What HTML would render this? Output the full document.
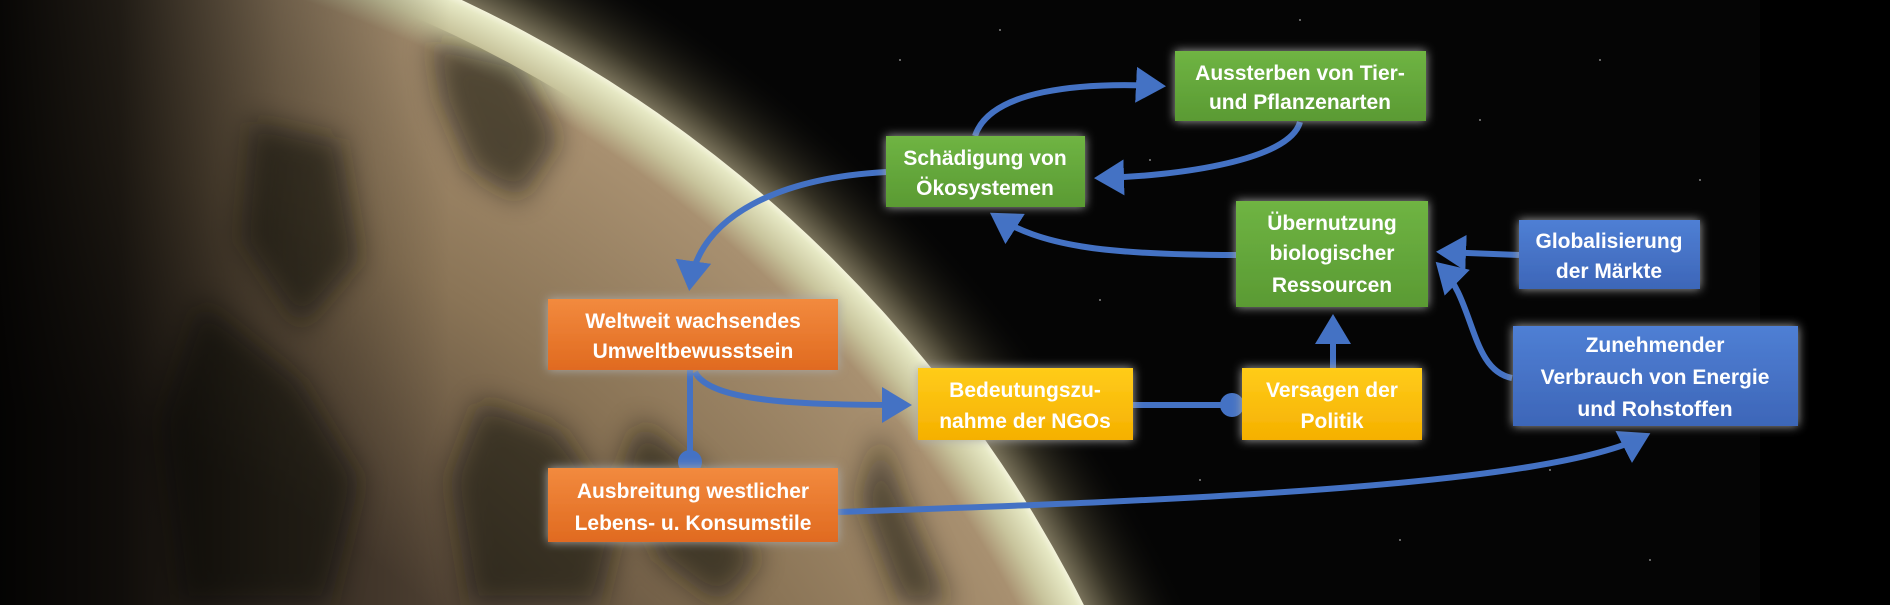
<!DOCTYPE html>
<html><head><meta charset="utf-8"><style>
html,body{margin:0;padding:0;background:#000;width:1890px;height:605px;overflow:hidden;}
svg{display:block;}
text{font-family:"Liberation Sans",sans-serif;font-weight:bold;fill:#fff;font-size:21px;text-anchor:middle;}
</style></head><body>
<svg width="1890" height="605" viewBox="0 0 1890 605" xmlns="http://www.w3.org/2000/svg">
<defs>
<radialGradient id="earth" cx="-100" cy="1200" r="1325" gradientUnits="userSpaceOnUse">
<stop offset="0.6" stop-color="#4e4032"/>
<stop offset="0.8" stop-color="#8a7456"/>
<stop offset="0.955" stop-color="#a89070"/>
<stop offset="0.975" stop-color="#c8c49c"/>
<stop offset="0.995" stop-color="#e6e8c4"/>
<stop offset="1" stop-color="#f4f4dc"/>
</radialGradient>
<radialGradient id="glow" cx="-100" cy="1200" r="1420" gradientUnits="userSpaceOnUse">
<stop offset="0.92" stop-color="#fff2c8" stop-opacity="0.65"/>
<stop offset="0.955" stop-color="#d8c890" stop-opacity="0.22"/>
<stop offset="1" stop-color="#000" stop-opacity="0"/>
</radialGradient>
<linearGradient id="shade" x1="0" y1="0" x2="1" y2="0">
<stop offset="0" stop-color="#000" stop-opacity="0.95"/>
<stop offset="0.12" stop-color="#000" stop-opacity="0.8"/>
<stop offset="0.28" stop-color="#000" stop-opacity="0.35"/>
<stop offset="0.45" stop-color="#000" stop-opacity="0"/>
</linearGradient>
<linearGradient id="gG" x1="0" y1="0" x2="0" y2="1"><stop offset="0" stop-color="#6fb443"/><stop offset="1" stop-color="#5a9a33"/></linearGradient>
<linearGradient id="gO" x1="0" y1="0" x2="0" y2="1"><stop offset="0" stop-color="#f28a3e"/><stop offset="1" stop-color="#e06a20"/></linearGradient>
<linearGradient id="gY" x1="0" y1="0" x2="0" y2="1"><stop offset="0" stop-color="#ffcc1a"/><stop offset="1" stop-color="#f5b000"/></linearGradient>
<linearGradient id="gB" x1="0" y1="0" x2="0" y2="1"><stop offset="0" stop-color="#4f7fd4"/><stop offset="1" stop-color="#3d66b8"/></linearGradient>
<filter id="bglow" x="-20%" y="-30%" width="140%" height="160%"><feFlood flood-color="#aaa"/><feComposite operator="in" in2="SourceAlpha"/><feGaussianBlur stdDeviation="5"/><feMerge><feMergeNode/><feMergeNode in="SourceGraphic"/></feMerge></filter>
<filter id="soft" x="-20%" y="-20%" width="140%" height="140%"><feGaussianBlur stdDeviation="14"/></filter>
<clipPath id="ec"><circle cx="-100" cy="1200" r="1290"/></clipPath>
<marker id="ar" markerWidth="6" markerHeight="6" refX="4" refY="3" orient="auto" markerUnits="strokeWidth"><path d="M0,0 L5,3 L0,6 Z" fill="#4472c4"/></marker>
<marker id="dot" markerWidth="4" markerHeight="4" refX="2" refY="2" orient="auto" markerUnits="strokeWidth"><circle cx="2" cy="2" r="2" fill="#4472c4"/></marker>
</defs>
<rect width="1890" height="605" fill="#050505"/>
<g fill="#fff" opacity="0.5">
<circle cx="1000" cy="30" r="1"/><circle cx="1150" cy="160" r="1"/><circle cx="1480" cy="120" r="1"/><circle cx="1600" cy="60" r="1"/><circle cx="1200" cy="480" r="1"/><circle cx="1400" cy="540" r="1"/><circle cx="1100" cy="300" r="1"/><circle cx="1700" cy="180" r="1"/><circle cx="1550" cy="470" r="1"/><circle cx="900" cy="60" r="1"/><circle cx="1300" cy="20" r="1"/><circle cx="1650" cy="560" r="1"/>
</g>
<circle cx="-100" cy="1200" r="1420" fill="url(#glow)"/>
<circle cx="-100" cy="1200" r="1325" fill="url(#earth)"/>
<g clip-path="url(#ec)">
<g fill="#151210" opacity="0.6" filter="url(#soft)">
<path d="M430 40 L520 60 L560 140 L520 200 L470 170 L440 100 Z"/>
<path d="M480 400 L560 430 L620 520 L600 605 L470 605 L450 480 Z"/>
<path d="M640 420 L700 470 L760 560 L720 605 L660 560 L620 470 Z"/>
<path d="M880 430 L900 490 L950 605 L900 605 L860 500 Z"/>
<path d="M250 120 L340 140 L360 260 L300 330 L240 240 Z"/>
<path d="M200 300 L300 380 L360 480 L330 605 L180 605 L160 420 Z"/>
</g>
</g>
<rect width="1000" height="605" fill="url(#shade)"/>
<rect x="1760" width="130" height="605" fill="#000"/>

<g fill="none" stroke="#4472c4" stroke-width="6">
<path d="M975 136 C990 90,1080 82,1160 86" marker-end="url(#ar)"/>
<path d="M1300 122 C1290 160,1180 176,1100 178" marker-end="url(#ar)"/>
<path d="M1236 255 C1100 255,1040 245,995 216" marker-end="url(#ar)"/>
<path d="M886 172 C780 178,700 215,690 285" marker-end="url(#ar)"/>
<path d="M690 370 L690 462" marker-end="url(#dot)"/>
<path d="M695 372 C710 402,800 405,906 405" marker-end="url(#ar)"/>
<path d="M1133 405 L1232 405" marker-end="url(#dot)"/>
<path d="M1333 368 L1333 320" marker-end="url(#ar)"/>
<path d="M1519 255 L1442 252" marker-end="url(#ar)"/>
<path d="M1512 378 C1470 370,1475 300,1440 266" marker-end="url(#ar)"/>
<path d="M838 512 C1200 500,1550 485,1645 436" marker-end="url(#ar)"/>
</g>

<g filter="url(#bglow)">
<rect x="1175" y="51" width="251" height="70" fill="url(#gG)"/>
<rect x="886" y="136" width="199" height="71" fill="url(#gG)"/>
<rect x="1236" y="201" width="192" height="106" fill="url(#gG)"/>
<rect x="1519" y="220" width="181" height="69" fill="url(#gB)"/>
<rect x="1513" y="326" width="285" height="100" fill="url(#gB)"/>
<rect x="548" y="299" width="290" height="71" fill="url(#gO)"/>
<rect x="548" y="468" width="290" height="74" fill="url(#gO)"/>
<rect x="918" y="368" width="215" height="72" fill="url(#gY)"/>
<rect x="1242" y="368" width="180" height="72" fill="url(#gY)"/>
</g>
<text x="1300" y="80">Aussterben von Tier-</text>
<text x="1300" y="109">und Pflanzenarten</text>
<text x="985" y="165">Schädigung von</text>
<text x="985" y="195">Ökosystemen</text>
<text x="1332" y="230">Übernutzung</text>
<text x="1332" y="260">biologischer</text>
<text x="1332" y="292">Ressourcen</text>
<text x="1609" y="248">Globalisierung</text>
<text x="1609" y="278">der Märkte</text>
<text x="1655" y="352">Zunehmender</text>
<text x="1655" y="384">Verbrauch von Energie</text>
<text x="1655" y="416">und Rohstoffen</text>
<text x="693" y="328">Weltweit wachsendes</text>
<text x="693" y="358">Umweltbewusstsein</text>
<text x="693" y="498">Ausbreitung westlicher</text>
<text x="693" y="530">Lebens- u. Konsumstile</text>
<text x="1025" y="397">Bedeutungszu-</text>
<text x="1025" y="428">nahme der NGOs</text>
<text x="1332" y="397">Versagen der</text>
<text x="1332" y="428">Politik</text>
</svg>
</body></html>
